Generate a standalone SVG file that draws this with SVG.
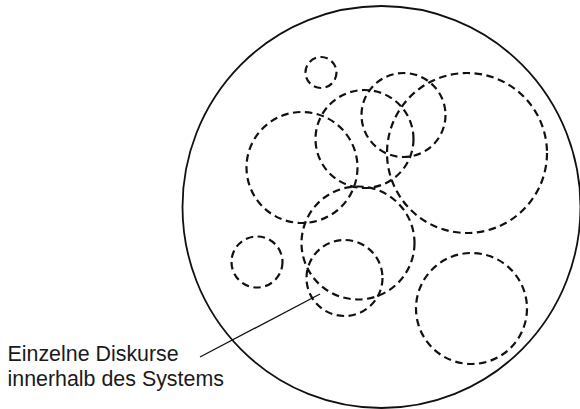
<svg xmlns="http://www.w3.org/2000/svg" width="580" height="409" viewBox="0 0 580 409">
<style>
.sys{fill:none;stroke:#111;stroke-width:1.8}
.d{fill:none;stroke:#111;stroke-width:2.2;stroke-dasharray:7.5 4.5}
.lead{fill:none;stroke:#111;stroke-width:1.3}
.lbl{font-family:"Liberation Sans",Arial,sans-serif;font-size:21.4px;fill:#1a1a1a}
</style>
<rect width="580" height="409" fill="#fff"/>
<g id="system"><ellipse class="sys" cx="381.5" cy="207" rx="199" ry="201"/></g>
<g id="d1"><circle class="d" cx="321" cy="72.5" r="15.5"/></g>
<g id="d2"><circle class="d" cx="257" cy="262" r="25.5"/></g>
<g id="d3"><circle class="d" cx="302" cy="167.5" r="55.5"/></g>
<g id="d4"><circle class="d" cx="364.5" cy="139" r="49"/></g>
<g id="d5"><circle class="d" cx="403.5" cy="115" r="42"/></g>
<g id="d6"><circle class="d" cx="467" cy="153" r="80"/></g>
<g id="d7"><circle class="d" cx="358" cy="243" r="56.5"/></g>
<g id="d8"><circle class="d" cx="344.5" cy="278" r="38"/></g>
<g id="d9"><circle class="d" cx="471.5" cy="308.5" r="55.5"/></g>
<g id="connectors"><line class="lead" x1="200" y1="357" x2="320" y2="294"/></g>
<g id="label">
<text class="lbl" x="7.5" y="361">Einzelne Diskurse</text>
<text class="lbl" x="7.5" y="386">innerhalb des Systems</text>
</g>
</svg>
